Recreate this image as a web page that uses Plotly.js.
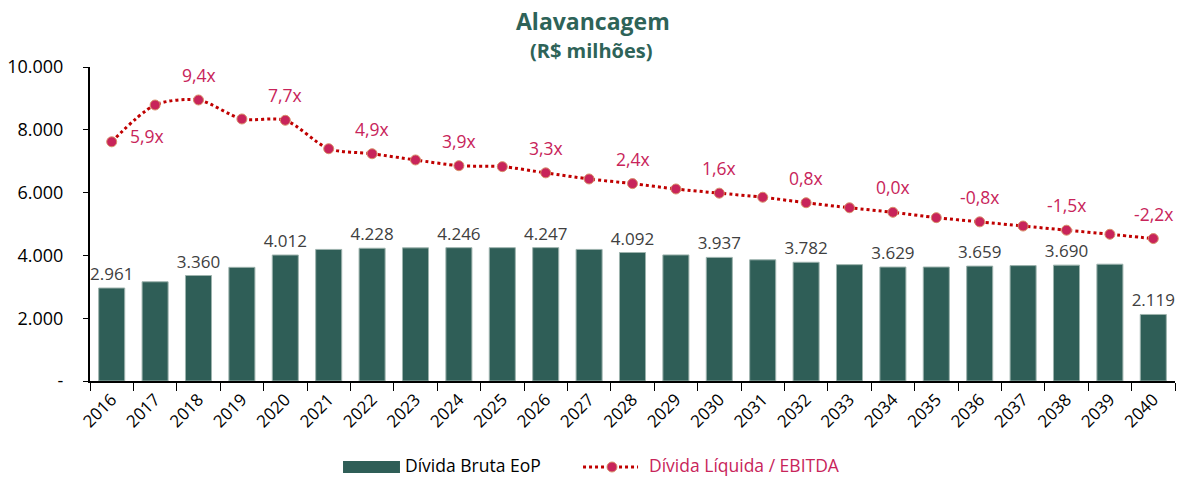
<!DOCTYPE html>
<html><head><meta charset="utf-8">
<script src="https://cdn.plot.ly/plotly-3.0.1.min.js"></script>
<style>html,body{margin:0;padding:0;background:#fff}#chart{width:1177px;height:477px}</style>
</head><body><div id="chart"></div>
<script>
const years = ['2016','2017','2018','2019','2020','2021','2022','2023','2024','2025','2026','2027','2028','2029','2030','2031','2032','2033','2034','2035','2036','2037','2038','2039','2040'];
const dividaBruta = [2961,3160,3360,3620,4012,4190,4228,4240,4246,4246,4247,4190,4092,4015,3937,3860,3782,3705,3629,3630,3659,3675,3690,3720,2119];
const alavancagem = [5.9,8.98,9.4,7.81,7.7,5.32,4.9,4.38,3.9,3.82,3.3,2.79,2.4,1.95,1.6,1.26,0.8,0.38,0.0,-0.45,-0.8,-1.15,-1.5,-1.84,-2.2];
const barLabelYears = ['2016','2018','2020','2022','2024','2026','2028','2030','2032','2034','2036','2038','2040'];
const lineLabels = ['5,9x','9,4x','7,7x','4,9x','3,9x','3,3x','2,4x','1,6x','0,8x','0,0x','-0,8x','-1,5x','-2,2x'];
const yTickVals = [0,2000,4000,6000,8000,10000];
const yTickText = ['-','2.000','4.000','6.000','8.000','10.000'];
const seriesNames = ['Dívida Bruta EoP','Dívida Líquida / EBITDA'];

const FONT = '"Open Sans", "Noto Sans", sans-serif';
const GREEN = '#2F5E57', CRIMSON = '#C8245A', RED = '#C00000';
const fmt = v => v.toLocaleString('de-DE');
const barText = years.map((y,i) => barLabelYears.includes(y) ? fmt(dividaBruta[i]) : '');

const barTrace = {
  type:'bar', x:years, y:dividaBruta, name:seriesNames[0],
  marker:{color:GREEN, line:{color:'#9DB3AD', width:1}},
  text:barText, textposition:'outside', cliponaxis:false, constraintext:'none',
  outsidetextfont:{family:FONT, size:17, color:'#404040'},
  hoverinfo:'skip', showlegend:false
};
const lineTrace = {
  type:'scatter', mode:'lines+markers', x:years, y:alavancagem, yaxis:'y2', name:seriesNames[1],
  line:{color:RED, width:3, dash:'dot', shape:'spline', smoothing:0.8},
  marker:{color:CRIMSON, size:10, line:{color:'#D9906A', width:1}},
  cliponaxis:false, hoverinfo:'skip', showlegend:false
};

const annotations = barLabelYears.map((y,k) => {
  const i = years.indexOf(y);
  const first = k === 0;
  return {
    x:i, y:alavancagem[i], xref:'x', yref:'y2', text:lineLabels[k], showarrow:false,
    xshift: first ? 35 : 0, yshift: first ? 6 : 25,
    font:{family:FONT, size:17.5, color:CRIMSON}
  };
});
// title
annotations.push({xref:'paper', yref:'paper', x:0.4636, y:1.1465, yanchor:'middle', text:'<b>Alavancagem</b>', showarrow:false,
  font:{family:FONT, size:23, color:'#2E6358'}});
annotations.push({xref:'paper', yref:'paper', x:0.4618, y:1.054, yanchor:'middle', text:'<b>(R$ milhões)</b>', showarrow:false,
  font:{family:FONT, size:20, color:'#2E6358'}});
// legend texts
annotations.push({xref:'paper', yref:'paper', x:0.2885, y:-0.2675, xanchor:'left', yanchor:'middle', text:seriesNames[0], showarrow:false,
  font:{family:FONT, size:17.5, color:'#000'}});
annotations.push({xref:'paper', yref:'paper', x:0.5134, y:-0.2675, xanchor:'left', yanchor:'middle', text:seriesNames[1], showarrow:false,
  font:{family:FONT, size:17.5, color:CRIMSON}});

const shapes = [
  {type:'rect', xref:'paper', yref:'paper', x0:0.2332, x1:0.2857, y0:-0.293, y1:-0.2548, fillcolor:GREEN, line:{width:0}},
  {type:'line', xref:'paper', yref:'paper', x0:0.4544, x1:0.5051, y0:-0.2739, y1:-0.2739, line:{color:RED, width:3, dash:'dot'}},
  {type:'circle', xref:'paper', yref:'paper', x0:0.4765, x1:0.4857, y0:-0.2898, y1:-0.258, fillcolor:CRIMSON, line:{color:'#D9906A', width:1}}
];

const layout = {
  width:1177, height:477,
  margin:{l:90, r:2, t:67, b:96},
  paper_bgcolor:'#fff', plot_bgcolor:'#fff',
  font:{family:FONT, size:16, color:'#000'},
  bargap:0.4, showlegend:false,
  xaxis:{type:'category', range:[-0.5,24.5], tickangle:-45, ticks:'outside', tickson:'boundaries', ticklen:8, tickcolor:'#000',
    showline:true, linecolor:'#000', linewidth:2, showgrid:false, tickfont:{family:FONT, size:17, color:'#000'}},
  yaxis:{range:[0,10000], tickvals:yTickVals, ticktext:yTickText, ticks:'outside', ticklen:5, tickcolor:'#000', ticklabelstandoff:16,
    showline:true, linecolor:'#000', linewidth:2, showgrid:false, zeroline:false, tickfont:{family:FONT, size:18, color:'#000'}},
  yaxis2:{overlaying:'y', range:[-14.12,12.16], visible:false, showgrid:false, zeroline:false},
  annotations:annotations, shapes:shapes,
  hovermode:false
};
Plotly.newPlot('chart',[barTrace,lineTrace],layout,{staticPlot:true, displayModeBar:false});
</script></body></html>
